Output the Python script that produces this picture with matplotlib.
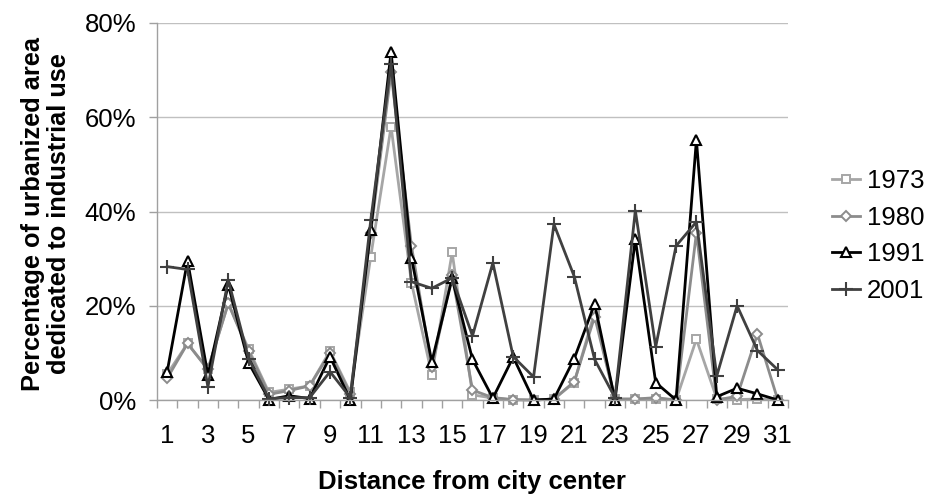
import matplotlib
matplotlib.use("Agg")
import matplotlib.pyplot as plt
from matplotlib.ticker import FixedLocator, FuncFormatter

plt.rcParams['font.family'] = ['Liberation Sans', 'DejaVu Sans']

distance = list(range(1, 32))
tick_labels = [str(d) for d in range(1, 32, 2)]

y1973 = [5.5, 12.0, 6.5, 20.5, 10.8, 1.6, 2.3, 3.0, 10.4, 1.6,
         30.4, 58.0, 24.9, 5.4, 31.3, 1.1, 0.4, 0.0, 0.0, 0.2,
         3.7, 18.7, 0.2, 0.2, 0.3, 0.0, 12.9, 0.3, 0.1, 0.2, 0.0]
y1980 = [4.6, 12.0, 6.5, 20.5, 10.3, 1.2, 2.0, 3.0, 10.0, 1.2,
         35.5, 69.5, 32.7, 7.0, 26.5, 2.1, 0.5, 0.1, 0.0, 0.2,
         3.9, 17.7, 0.2, 0.2, 0.5, 0.0, 35.4, 0.0, 0.8, 14.0, 0.0]
y1991 = [6.0, 29.6, 5.3, 24.5, 7.9, 0.1, 0.9, 0.3, 9.2, 0.0,
         36.1, 73.9, 30.2, 8.1, 25.8, 8.6, 0.4, 9.1, 0.0, 0.2,
         8.8, 20.4, 0.0, 34.1, 3.7, 0.0, 55.2, 0.7, 2.5, 1.3, 0.0]
y2001 = [28.3, 27.7, 2.8, 25.5, 8.8, 0.3, 0.5, 0.5, 6.0, 0.5,
         38.1, 71.4, 25.1, 23.7, 25.9, 13.6, 29.1, 9.2, 4.9, 37.3,
         26.2, 8.6, 0.5, 40.2, 11.3, 32.7, 37.8, 5.1, 20.0, 10.5, 6.4]

series = [
    ("1973", y1973, "#a6a6a6", "s", 6, 1.4),
    ("1980", y1980, "#8c8c8c", "D", 5, 1.4),
    ("1991", y1991, "#000000", "^", 7, 1.5),
    ("2001", y2001, "#404040", "+", 10, 1.5),
]

fig = plt.figure(figsize=(9.33, 5.0), dpi=100)
ax = fig.add_axes([157/933, 1 - 400/500, (788-157)/933, (400-23)/500])

for name, vals, col, mk, ms, mew in series:
    ax.plot(distance, vals, color=col, lw=2.0, marker=mk, ms=ms,
            mec=col, mfc='white' if mk != '+' else col, mew=mew,
            label=name, clip_on=False)

ax.set_xlim(0.5, 31.5)
ax.set_ylim(0, 80)
ax.set_yticks([0, 20, 40, 60, 80])
ax.yaxis.set_major_formatter(FuncFormatter(lambda v, p: f"{int(v)}%"))
ax.grid(axis='y', color='#c0c0c0', lw=1.0)
ax.set_axisbelow(True)

ax.xaxis.set_major_locator(FixedLocator(list(range(1, 32, 2))))
ax.set_xticklabels(tick_labels)
ax.xaxis.set_minor_locator(FixedLocator([x + 0.5 for x in range(0, 32)]))
ax.tick_params(axis='x', which='major', length=0, pad=17, labelsize=18.5)
ax.tick_params(axis='x', which='minor', length=6, color='#a0a0a0', width=1)
ax.tick_params(axis='y', length=6, color='#a0a0a0', width=1, pad=9, labelsize=18.5)

for s in ['top', 'right']:
    ax.spines[s].set_visible(False)
for s in ['left', 'bottom']:
    ax.spines[s].set_color('#a0a0a0')
    ax.spines[s].set_linewidth(1.0)

fig.text(471.5/933, 1 - 482/500, "Distance from city center",
         fontsize=18.5, fontweight='bold', ha='center', va='center')
fig.text(46/933, 1 - 214/500,
         "Percentage of urbanized area\ndedicated to industrial use",
         fontsize=18.3, fontweight='bold', ha='center', va='center',
         rotation=90, multialignment='center', linespacing=1.1)

leg = fig.legend(loc='center left', bbox_to_anchor=(832/933, 1 - 236/500),
                 frameon=False, fontsize=18.5, handlelength=1.1,
                 labelspacing=0.5, handletextpad=0.25, borderaxespad=0,
                 borderpad=0)

fig.savefig("out.png", dpi=100)
